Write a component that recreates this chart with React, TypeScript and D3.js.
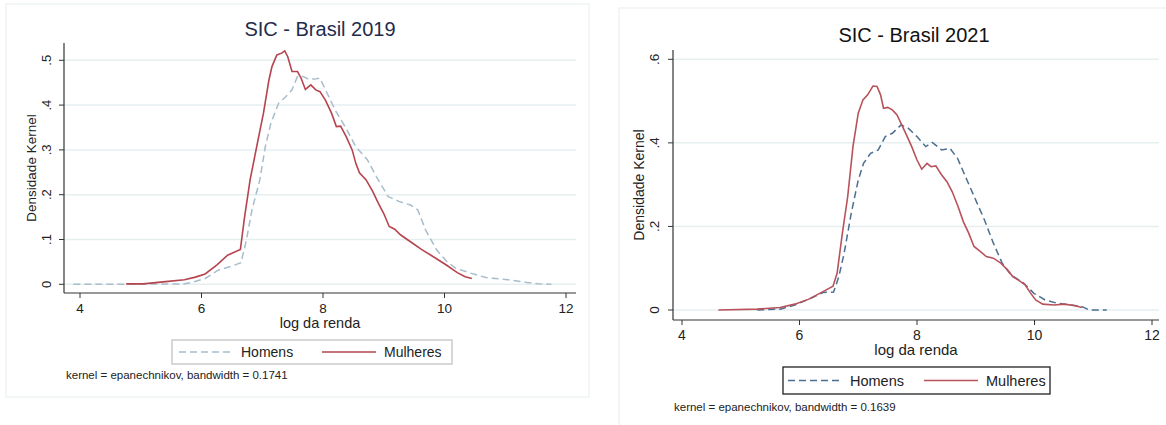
import React from 'react';
import * as d3 from 'd3';

type Pt = [number, number];

// 2019 - kernel density curves [log da renda, densidade]
const homens2019: Pt[] = [
  [3.89, 0], [4.66, 0], [5.72, 0.001], [5.84, 0.004], [6.06, 0.013], [6.28, 0.032], [6.46, 0.039],
  [6.65, 0.048], [6.74, 0.099], [6.83, 0.166], [6.96, 0.233], [7.05, 0.307], [7.14, 0.359],
  [7.27, 0.404], [7.39, 0.419], [7.49, 0.434], [7.58, 0.464], [7.67, 0.464], [7.76, 0.458],
  [7.86, 0.458], [7.95, 0.46], [8.07, 0.426], [8.2, 0.389], [8.38, 0.348], [8.54, 0.307],
  [8.73, 0.278], [8.88, 0.24], [9.07, 0.196], [9.25, 0.185], [9.44, 0.177], [9.56, 0.166],
  [9.69, 0.121], [9.87, 0.077], [10.03, 0.052], [10.18, 0.036], [10.43, 0.025], [10.68, 0.015],
  [11.05, 0.01], [11.36, 0.004], [11.55, 0.001], [11.76, 0],
];
const mulheres2019: Pt[] = [
  [4.76, 0.001], [5.04, 0.001], [5.41, 0.006], [5.72, 0.01], [5.9, 0.016], [6.06, 0.023],
  [6.25, 0.043], [6.43, 0.065], [6.64, 0.078], [6.71, 0.151], [6.8, 0.233], [6.93, 0.322],
  [7.02, 0.382], [7.11, 0.456], [7.16, 0.486], [7.24, 0.512], [7.32, 0.516], [7.37, 0.521],
  [7.42, 0.508], [7.49, 0.475], [7.58, 0.475], [7.64, 0.46], [7.71, 0.435], [7.8, 0.445],
  [7.88, 0.434], [7.95, 0.43], [8.04, 0.411], [8.14, 0.382], [8.22, 0.352], [8.29, 0.353],
  [8.38, 0.33], [8.48, 0.3], [8.54, 0.27], [8.6, 0.249], [8.71, 0.233], [8.82, 0.207],
  [8.91, 0.181], [9.0, 0.158], [9.09, 0.129], [9.18, 0.123], [9.28, 0.11], [9.44, 0.095],
  [9.62, 0.078], [9.81, 0.062], [10.03, 0.043], [10.21, 0.026], [10.34, 0.017], [10.45, 0.013],
];

// 2021
const homens2021: Pt[] = [
  [5.28, 0], [5.67, 0.002], [5.92, 0.012], [6.16, 0.026], [6.4, 0.042], [6.58, 0.043],
  [6.67, 0.08], [6.76, 0.136], [6.88, 0.231], [7.0, 0.311], [7.09, 0.351], [7.21, 0.375],
  [7.34, 0.383], [7.46, 0.415], [7.58, 0.423], [7.73, 0.443], [7.85, 0.435], [8.0, 0.415],
  [8.15, 0.391], [8.26, 0.401], [8.42, 0.383], [8.56, 0.387], [8.69, 0.363], [8.85, 0.311],
  [9.0, 0.263], [9.15, 0.215], [9.3, 0.16], [9.45, 0.112], [9.6, 0.084], [9.81, 0.065],
  [9.99, 0.04], [10.18, 0.024], [10.39, 0.016], [10.63, 0.012], [10.81, 0.008], [10.93, 0],
  [11.23, 0],
];
const mulheres2021: Pt[] = [
  [4.62, 0], [5.28, 0.002], [5.67, 0.006], [5.92, 0.014], [6.16, 0.026], [6.4, 0.044],
  [6.57, 0.057], [6.64, 0.088], [6.73, 0.184], [6.82, 0.271], [6.91, 0.391], [7.0, 0.471],
  [7.08, 0.503], [7.16, 0.515], [7.25, 0.536], [7.32, 0.535], [7.38, 0.515], [7.43, 0.483],
  [7.5, 0.485], [7.58, 0.479], [7.66, 0.467], [7.74, 0.443], [7.82, 0.419], [7.91, 0.391],
  [8.0, 0.359], [8.08, 0.337], [8.17, 0.351], [8.24, 0.343], [8.32, 0.345], [8.42, 0.323],
  [8.51, 0.307], [8.6, 0.283], [8.7, 0.247], [8.79, 0.211], [8.88, 0.184], [8.97, 0.152],
  [9.06, 0.142], [9.18, 0.128], [9.3, 0.124], [9.42, 0.113], [9.54, 0.096], [9.63, 0.08],
  [9.72, 0.072], [9.84, 0.06], [9.93, 0.041], [10.02, 0.024], [10.14, 0.014], [10.33, 0.012],
  [10.51, 0.014], [10.69, 0.01], [10.81, 0.006],
];

const xTicks = [4, 6, 8, 10, 12];
const yTicks2019 = [0, 0.1, 0.2, 0.3, 0.4, 0.5];
const yTicks2021 = [0, 0.2, 0.4, 0.6];
const legendLabels = ['Homens', 'Mulheres'];

const fmt = (v: number) => (v === 0 ? '0' : String(v).replace(/^0/, ''));

interface PanelProps {
  title: string;
  note: string;
  homens: Pt[];
  mulheres: Pt[];
  yTicks: number[];
  yMax: number;
  x0: number; x1: number; // pixel positions of x=4 and x=12
  y0: number; yTop: number; // pixel of y=0 and y=yMax
  axisLeft: number; axisRight: number; plotTop: number; axisY: number;
  titleColor: string; homensColor: string; mulheresColor: string; legendBorder: string;
  titleY: number; titleX: number; titleSize: number; labelSize: number;
  legend: { x: number; y: number; w: number; h: number; hx: number; mx: number };
  noteX: number; noteY: number;
  yLabelX: number; yTickX: number;
}

const Panel: React.FC<PanelProps> = (p) => {
  const x = d3.scaleLinear().domain([4, 12]).range([p.x0, p.x1]);
  const y = d3.scaleLinear().domain([0, p.yMax]).range([p.y0, p.yTop]);
  const line = d3.line<Pt>().x(d => x(d[0])).y(d => y(d[1]));
  const font = 'Liberation Sans, Arial, sans-serif';
  const cx = (p.axisLeft + p.axisRight) / 2;
  const lg = p.legend;
  return (
    <g fontFamily={font}>
      <text x={p.titleX} y={p.titleY} textAnchor="middle" fontSize={p.titleSize} fill={p.titleColor}>{p.title}</text>
      {p.yTicks.map(t => (
        <g key={t}>
          <line x1={p.axisLeft} x2={p.axisRight} y1={y(t)} y2={y(t)} stroke="#e6eff0" strokeWidth={1.5} />
          <line x1={p.axisLeft - 5} x2={p.axisLeft} y1={y(t)} y2={y(t)} stroke="#333" strokeWidth={1} />
          <text transform={`translate(${p.yTickX},${y(t)}) rotate(-90)`} textAnchor="middle" fontSize={p.labelSize - 0.5} fill="#222">{fmt(t)}</text>
        </g>
      ))}
      <line x1={p.axisLeft} x2={p.axisLeft} y1={p.plotTop} y2={p.axisY} stroke="#333" strokeWidth={1.2} />
      <line x1={p.axisLeft} x2={p.axisRight} y1={p.axisY} y2={p.axisY} stroke="#333" strokeWidth={1.2} />
      {xTicks.map(t => (
        <g key={t}>
          <line x1={x(t)} x2={x(t)} y1={p.axisY} y2={p.axisY + 5} stroke="#333" strokeWidth={1} />
          <text x={x(t)} y={p.axisY + 20} textAnchor="middle" fontSize={p.labelSize} fill="#222">{t}</text>
        </g>
      ))}
      <text x={cx} y={p.axisY + 35} textAnchor="middle" fontSize={p.labelSize + 1} fill="#222">log da renda</text>
      <text transform={`translate(${p.yLabelX},${(p.plotTop + p.axisY) / 2}) rotate(-90)`} textAnchor="middle" fontSize={p.labelSize} fill="#222">Densidade Kernel</text>

      <path d={line(p.homens) ?? ''} fill="none" stroke={p.homensColor} strokeWidth={1.5} strokeDasharray="7,4" />
      <path d={line(p.mulheres) ?? ''} fill="none" stroke={p.mulheresColor} strokeWidth={1.6} />

      <rect x={lg.x} y={lg.y} width={lg.w} height={lg.h} fill="#fff" stroke={p.legendBorder} strokeWidth={1.3} />
      <line x1={lg.hx} x2={lg.hx + 54} y1={lg.y + lg.h / 2} y2={lg.y + lg.h / 2} stroke={p.homensColor} strokeWidth={1.5} strokeDasharray="7,4" />
      <text x={lg.hx + 62} y={lg.y + lg.h / 2 + 5} fontSize={p.labelSize + 0.5} fill="#222">{legendLabels[0]}</text>
      <line x1={lg.mx} x2={lg.mx + 54} y1={lg.y + lg.h / 2} y2={lg.y + lg.h / 2} stroke={p.mulheresColor} strokeWidth={1.6} />
      <text x={lg.mx + 62} y={lg.y + lg.h / 2 + 5} fontSize={p.labelSize + 0.5} fill="#222">{legendLabels[1]}</text>

      <text x={p.noteX} y={p.noteY} fontSize={11.5} fill="#222">{p.note}</text>
    </g>
  );
};

export default function App() {
  return (
    <svg width={1166} height={425} style={{ position: 'absolute', left: 0, top: 0, background: '#fff' }}>
      <rect x={6} y={4} width={583} height={393} fill="#fff" stroke="#e8eef0" strokeWidth={1} />
      <rect x={619} y={8} width={560} height={430} fill="#fff" stroke="#e8eef0" strokeWidth={1} />
      <Panel
        title="SIC - Brasil 2019"
        note="kernel = epanechnikov, bandwidth = 0.1741"
        homens={homens2019}
        mulheres={mulheres2019}
        yTicks={yTicks2019}
        yMax={0.5}
        x0={80} x1={566} y0={284.3} yTop={60.3}
        axisLeft={64} axisRight={576} plotTop={43} axisY={293}
        titleColor="#1f2d4d" homensColor="#a8bdcc" mulheresColor="#b5444f" legendBorder="#c4c4c4"
        titleX={320} titleY={36} titleSize={20} labelSize={13.5}
        legend={{ x: 172, y: 340, w: 280, h: 24, hx: 179, mx: 322 }}
        noteX={66} noteY={379}
        yLabelX={36} yTickX={51}
      />
      <Panel
        title="SIC - Brasil 2021"
        note="kernel = epanechnikov, bandwidth = 0.1639"
        homens={homens2021}
        mulheres={mulheres2021}
        yTicks={yTicks2021}
        yMax={0.6}
        x0={682} x1={1152} y0={310} yTop={59.3}
        axisLeft={673} axisRight={1159} plotTop={50} axisY={320}
        titleColor="#111" homensColor="#4b6f91" mulheresColor="#b8525b" legendBorder="#222"
        titleX={914} titleY={42} titleSize={20} labelSize={14}
        legend={{ x: 783, y: 367, w: 267, h: 27, hx: 788, mx: 924 }}
        noteX={674} noteY={411}
        yLabelX={644} yTickX={659}
      />
    </svg>
  );
}
